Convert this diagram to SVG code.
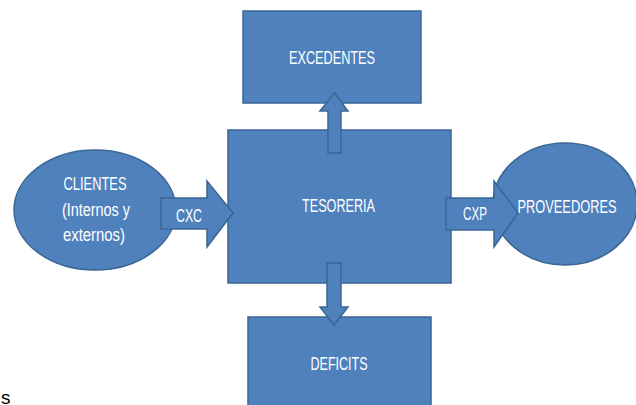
<svg xmlns="http://www.w3.org/2000/svg" width="636" height="405" viewBox="0 0 636 405">
  <style>
    .shape { fill: #4F81BD; stroke: #3A6594; stroke-width: 1.5; }
    .arrow { fill: #4F81BD; stroke: #3A6594; stroke-width: 1.5; stroke-linejoin: miter; }
    .label { font-family: "Liberation Sans", Arial, sans-serif; font-size: 18px; fill: #FFFFFF; text-anchor: middle; }
  </style>
  <rect width="636" height="405" fill="#FFFFFF"/>

  <!-- Nodes -->
  <g id="clientes">
    <ellipse class="shape" cx="95" cy="210" rx="81" ry="60"/>
    <text class="label" x="95" y="190" textLength="63" lengthAdjust="spacingAndGlyphs">CLIENTES</text>
    <text class="label" x="96" y="216" textLength="68" lengthAdjust="spacingAndGlyphs">(Internos y</text>
    <text class="label" x="94" y="241" textLength="62" lengthAdjust="spacingAndGlyphs">externos)</text>
  </g>

  <g id="proveedores">
    <ellipse class="shape" cx="565" cy="204" rx="72" ry="61"/>
    <text class="label" x="567" y="213" textLength="99" lengthAdjust="spacingAndGlyphs">PROVEEDORES</text>
  </g>

  <g id="tesoreria">
    <rect class="shape" x="228" y="130" width="223" height="153"/>
    <text class="label" x="338.5" y="212" textLength="73" lengthAdjust="spacingAndGlyphs">TESORERIA</text>
  </g>

  <g id="excedentes">
    <rect class="shape" x="243" y="11" width="178" height="92"/>
    <text class="label" x="332" y="64" textLength="86" lengthAdjust="spacingAndGlyphs">EXCEDENTES</text>
  </g>

  <g id="deficits">
    <rect class="shape" x="248" y="317" width="183" height="100"/>
    <text class="label" x="339" y="370" textLength="57" lengthAdjust="spacingAndGlyphs">DEFICITS</text>
  </g>

  <!-- Connectors: block arrows -->
  <g id="connectors">
    <polygon class="arrow" points="161,198 207,198 207,181 233,213 207,247 207,229 161,229"/>
    <text class="label" x="189" y="222" textLength="26" lengthAdjust="spacingAndGlyphs">CXC</text>

    <polygon class="arrow" points="446,198 494,198 494,181 518,213 494,247 494,230 446,230"/>
    <text class="label" x="475" y="220" textLength="24" lengthAdjust="spacingAndGlyphs">CXP</text>

    <polygon class="arrow" points="328,153 341,153 341,111 348,111 334.5,93 320,111 328,111"/>
    <polygon class="arrow" points="327,263 341,263 341,307 348,307 334,325 320,307 327,307"/>
  </g>

  <!-- Stray text fragment at the lower-left edge -->
  <text x="1" y="404" font-family="Liberation Sans, Arial, sans-serif" font-size="19" fill="#000000">s</text>
</svg>
